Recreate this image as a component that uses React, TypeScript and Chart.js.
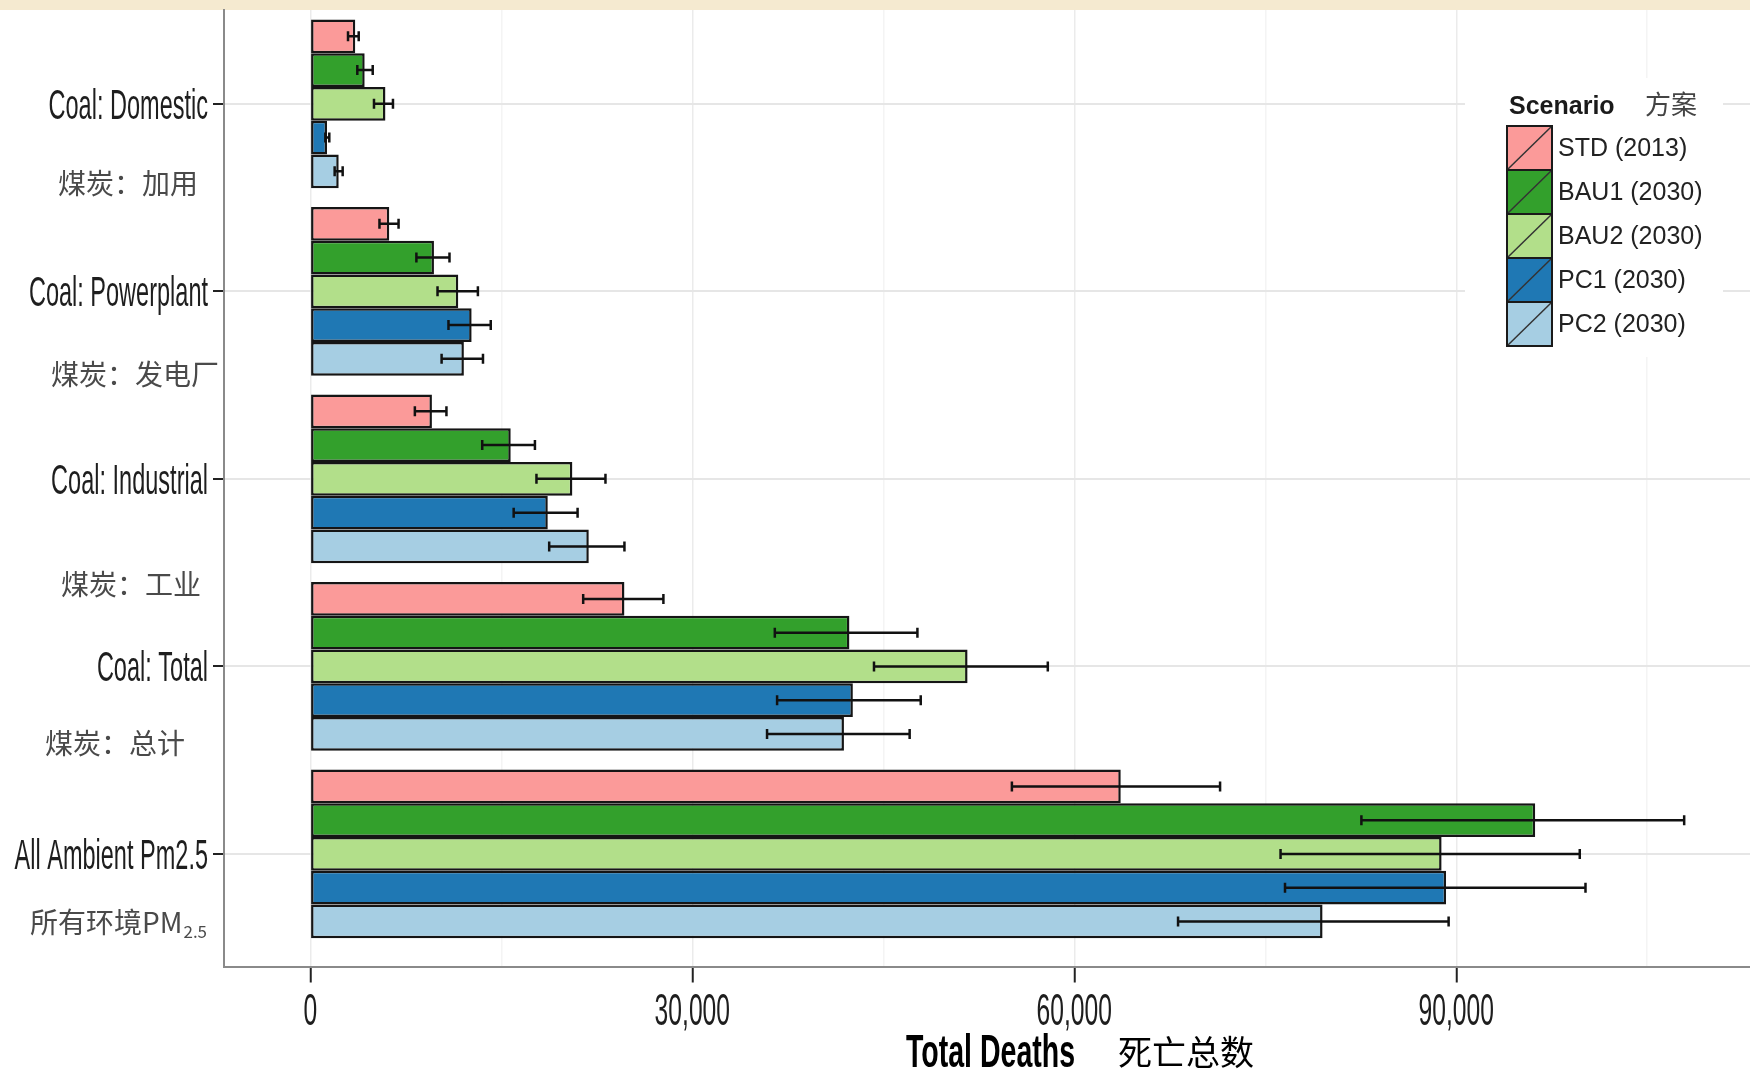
import React, { useEffect, useRef } from 'react';
import { Chart, registerables } from 'chart.js';

Chart.register(...registerables);

// ---------- data ----------
const CATEGORIES = ['Coal: Domestic', 'Coal: Powerplant', 'Coal: Industrial', 'Coal: Total', 'All Ambient Pm2.5'];
const CATEGORIES_ZH = ['煤炭：加用', '煤炭：发电厂', '煤炭：工业', '煤炭：总计', '所有环境PM'];
const CATEGORIES_ZH_SUB = ['', '', '', '', '2.5'];
const SCENARIOS = ['STD (2013)', 'BAU1 (2030)', 'BAU2 (2030)', 'PC1 (2030)', 'PC2 (2030)'];
const SCENARIO_COLORS = ['#FB9A99', '#33A02C', '#B2DF8A', '#1F78B4', '#A6CEE3'];

const STD_DEATHS = [3530, 6200, 9550, 24670, 63650];
const BAU1_DEATHS = [4270, 9710, 15740, 42340, 96200];
const BAU2_DEATHS = [5900, 11620, 20580, 51620, 88850];
const PC1_DEATHS = [1310, 12670, 18650, 42610, 89200];
const PC2_DEATHS = [2230, 12060, 21870, 41910, 79500];

const STD_LOW = [2960, 5430, 8210, 21430, 55100];
const STD_HIGH = [3800, 6930, 10690, 27730, 71450];
const BAU1_LOW = [3690, 8330, 13500, 36480, 82550];
const BAU1_HIGH = [4900, 10930, 17640, 47680, 107900];
const BAU2_LOW = [5000, 9990, 17760, 44270, 76200];
const BAU2_HIGH = [6490, 13160, 23180, 57920, 99700];
const PC1_LOW = [1180, 10850, 15970, 36660, 76550];
const PC1_HIGH = [1490, 14170, 20990, 47940, 100150];
const PC2_LOW = [1910, 10310, 18760, 35870, 68150];
const PC2_HIGH = [2540, 13560, 24670, 47070, 89400];

const X_TICK_LABELS = [0, 30000, 60000, 90000];
const X_GRID_VALUES = [0, 15000, 30000, 45000, 60000, 75000, 90000, 105000];
const X_TITLE = 'Total Deaths';
const X_TITLE_ZH = '死亡总数';
const LEGEND_TITLE = 'Scenario';
const LEGEND_TITLE_ZH = '方案';

// ---------- layout / style ----------
const W = 1750;
const H = 1071;
const ZH_LABEL_POS = [
  { dy: 0.427, x: 58 },
  { dy: 0.445, x: 51 },
  { dy: 0.56, x: 61 },
  { dy: 0.408, x: 45 },
  { dy: 0.363, x: 30 },
];
const AXIS_TEXT = '#1e1e1e';

function squishText(ctx: any, text: string, x: number, y: number, font: string, sx: number, align: string, color: string) {
  ctx.save();
  ctx.font = font;
  ctx.fillStyle = color;
  ctx.textBaseline = 'alphabetic';
  ctx.textAlign = 'left';
  const w = ctx.measureText(text).width * sx;
  const left = align === 'right' ? x - w : align === 'center' ? x - w / 2 : x;
  ctx.translate(left, y);
  ctx.scale(sx, 1);
  ctx.fillText(text, 0, 0);
  ctx.restore();
}

const SERIES = [STD_DEATHS, BAU1_DEATHS, BAU2_DEATHS, PC1_DEATHS, PC2_DEATHS];
const LOWS = [STD_LOW, BAU1_LOW, BAU2_LOW, PC1_LOW, PC2_LOW];
const HIGHS = [STD_HIGH, BAU1_HIGH, BAU2_HIGH, PC1_HIGH, PC2_HIGH];

const backgroundPlugin = {
  id: 'bg',
  beforeDraw(chart: any) {
    const ctx = chart.ctx;
    ctx.save();
    ctx.fillStyle = '#ffffff';
    ctx.fillRect(0, 0, chart.width, chart.height);
    ctx.fillStyle = '#F5EAD0';
    ctx.fillRect(0, 0, chart.width, 10);
    ctx.restore();
  },
};

const errorBarPlugin = {
  id: 'errbars',
  afterDatasetsDraw(chart: any) {
    const ctx = chart.ctx;
    const xs = chart.scales.x;
    ctx.save();
    ctx.strokeStyle = '#111111';
    ctx.lineWidth = 2.5;
    chart.data.datasets.forEach((_ds: any, di: number) => {
      const meta = chart.getDatasetMeta(di);
      meta.data.forEach((bar: any, i: number) => {
        const lo = xs.getPixelForValue(LOWS[di][i]);
        const hi = xs.getPixelForValue(HIGHS[di][i]);
        const y = bar.y;
        const cap = 5;
        ctx.beginPath();
        ctx.moveTo(lo, y);
        ctx.lineTo(hi, y);
        ctx.moveTo(lo, y - cap);
        ctx.lineTo(lo, y + cap);
        ctx.moveTo(hi, y - cap);
        ctx.lineTo(hi, y + cap);
        ctx.stroke();
      });
    });
    ctx.restore();
  },
};

const textPlugin = {
  id: 'texts',
  afterDraw(chart: any) {
    const ctx = chart.ctx;
    const xs = chart.scales.x;
    const ys = chart.scales.y;
    // y-axis labels (English)
    CATEGORIES.forEach((c, i) => {
      const y = ys.getPixelForValue(i);
      squishText(ctx, c, 208, y + 15, '42px "Liberation Sans", Arial, sans-serif', 0.56, 'right', AXIS_TEXT);
    });
    // y-axis labels (Chinese)
    CATEGORIES_ZH.forEach((c, i) => {
      const p = ZH_LABEL_POS[i];
      const y = ys.getPixelForValue(i + p.dy);
      ctx.save();
      ctx.font = '28px "Noto Sans CJK SC", sans-serif';
      ctx.fillStyle = '#4a4a4a';
      ctx.textBaseline = 'middle';
      ctx.textAlign = 'left';
      ctx.fillText(c, p.x, y);
      const w = ctx.measureText(c).width;
      if (CATEGORIES_ZH_SUB[i]) {
        ctx.font = '17px "Noto Sans CJK SC", sans-serif';
        ctx.fillText(CATEGORIES_ZH_SUB[i], p.x + w + 1, y + 9);
      }
      ctx.restore();
    });
    // x tick labels
    X_TICK_LABELS.forEach((v) => {
      const x = xs.getPixelForValue(v);
      squishText(ctx, v.toLocaleString('en-US'), x, 1025, '44px "Liberation Sans", Arial, sans-serif', 0.56, 'center', AXIS_TEXT);
    });
    // x title
    squishText(ctx, X_TITLE, 906, 1067, 'bold 46px "Liberation Sans", Arial, sans-serif', 0.62, 'left', '#000000');
    ctx.save();
    ctx.font = '34px "Noto Sans CJK SC", sans-serif';
    ctx.fillStyle = '#000000';
    ctx.textBaseline = 'middle';
    ctx.textAlign = 'left';
    ctx.fillText(X_TITLE_ZH, 1118, 1052);
    ctx.restore();

    // legend
    ctx.save();
    ctx.fillStyle = '#ffffff';
    ctx.fillRect(1465, 78, 258, 279);
    ctx.font = 'bold 25px "Liberation Sans", Arial, sans-serif';
    ctx.fillStyle = '#1a1a1a';
    ctx.textBaseline = 'alphabetic';
    ctx.textAlign = 'left';
    ctx.fillText(LEGEND_TITLE, 1509, 114);
    ctx.font = '26px "Noto Sans CJK SC", sans-serif';
    ctx.fillStyle = '#444444';
    ctx.textBaseline = 'middle';
    ctx.fillText(LEGEND_TITLE_ZH, 1645, 104);
    const kx = 1507;
    const kw = 45;
    const kh = 44;
    const ky0 = 126;
    SCENARIOS.forEach((s, i) => {
      const ky = ky0 + i * kh;
      ctx.fillStyle = SCENARIO_COLORS[i];
      ctx.fillRect(kx, ky, kw, kh);
      ctx.strokeStyle = '#333333';
      ctx.lineWidth = 1.5;
      ctx.beginPath();
      ctx.moveTo(kx, ky + kh);
      ctx.lineTo(kx + kw, ky);
      ctx.stroke();
      ctx.strokeStyle = '#1a1a1a';
      ctx.lineWidth = 2;
      ctx.strokeRect(kx, ky, kw, kh);
      ctx.font = '25px "Liberation Sans", Arial, sans-serif';
      ctx.fillStyle = '#222222';
      ctx.textBaseline = 'middle';
      ctx.fillText(s, 1558, ky + kh / 2 + 1);
    });
    ctx.restore();
  },
};

export default function App() {
  const ref = useRef<HTMLCanvasElement>(null);
  useEffect(() => {
    if (!ref.current) return;
    const datasets = SCENARIOS.map((label, si) => ({
      label,
      data: SERIES[si].map((v, ci) => ({ x: v, y: ci })),
      backgroundColor: SCENARIO_COLORS[si],
      borderColor: '#151515',
      borderWidth: 2.5,
      borderSkipped: false,
      categoryPercentage: 0.9,
      barPercentage: 1.0,
    }));
    const chart = new Chart(ref.current, {
      type: 'bar',
      data: { datasets } as any,
      options: {
        indexAxis: 'y',
        animation: false,
        responsive: true,
        maintainAspectRatio: false,
        devicePixelRatio: 1,
        layout: { padding: { top: 10, left: 0, right: 0, bottom: 0 } },
        plugins: { legend: { display: false }, tooltip: { enabled: false } },
        scales: {
          x: {
            type: 'linear',
            min: -6780,
            max: 113070,
            offset: false,
            ticks: { display: false },
            afterBuildTicks: (s: any) => {
              s.ticks = X_GRID_VALUES.map((v) => ({ value: v }));
            },
            grid: {
              offset: false,
              color: (ctx: any) => (ctx.tick && ctx.tick.value % 30000 === 0 ? '#EBEBEB' : '#F4F4F4'),
              lineWidth: 1.5,
              drawTicks: true,
              tickLength: 16,
              tickWidth: 2,
              tickColor: (ctx: any) => (ctx.tick && ctx.tick.value % 30000 === 0 ? '#222222' : 'rgba(0,0,0,0)'),
            },
            border: { display: true, color: '#8a8a8a', width: 2 },
            afterFit: (s: any) => {
              s.height = 104.5;
            },
          },
          y: {
            type: 'linear',
            min: -0.5,
            max: 4.6,
            reverse: true,
            offset: false,
            ticks: { display: false },
            afterBuildTicks: (s: any) => {
              s.ticks = CATEGORIES.map((_c, i) => ({ value: i }));
            },
            grid: {
              offset: false,
              color: '#E6E6E6',
              lineWidth: 2,
              drawTicks: true,
              tickLength: 11,
              tickWidth: 2,
              tickColor: '#222222',
            },
            border: { display: true, color: '#8a8a8a', width: 2 },
            afterFit: (s: any) => {
              s.width = 224;
            },
          },
        },
      } as any,
      plugins: [backgroundPlugin, errorBarPlugin, textPlugin],
    });
    return () => chart.destroy();
  }, []);
  return (
    <div style={{ position: 'absolute', left: 0, top: 0, width: W, height: H, background: '#fff' }}>
      <canvas ref={ref} />
    </div>
  );
}
